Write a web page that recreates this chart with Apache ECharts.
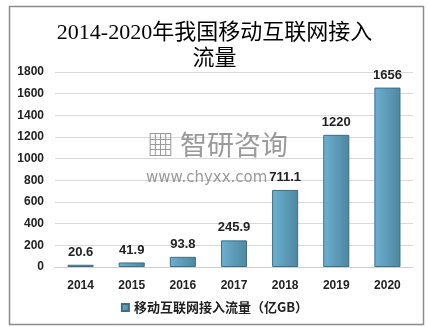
<!DOCTYPE html>
<html><head><meta charset="utf-8">
<script src="https://cdn.jsdelivr.net/npm/echarts@6/dist/echarts.min.js"></script>
<style>html,body{margin:0;padding:0;background:#fff}#c{width:429px;height:327px}</style>
</head><body><div id="c"></div>
<script>
const categories = ['2014','2015','2016','2017','2018','2019','2020'];
const values = [20.6, 41.9, 93.8, 245.9, 711.1, 1220, 1656];
const seriesName = '移动互联网接入流量（亿GB）';
const titleText = '2014-2020年我国移动互联网接入\n流量';

const chart = echarts.init(document.getElementById('c'));
chart.setOption({
  backgroundColor: '#fff',
  animation: false,
  title: {
    text: titleText, left: 'center', top: 15,
    textStyle: { fontFamily: 'Liberation Serif, "Noto Sans CJK SC", serif', fontSize: 22, fontWeight: 'normal', color: '#000', lineHeight: 26 }
  },
  graphic: [
    { type: 'rect', left: 7, top: 4, shape: { width: 414, height: 318 }, style: { fill: 'none', stroke: '#8c8c8c', lineWidth: 1.5 }, z: 0 },
    { type: 'text', left: 147, top: 131, style: { text: '▦ 智研咨询', fontSize: 27, fill: 'rgba(120,120,120,0.75)', fontFamily: '"Noto Sans CJK SC"' }, z: 100 },
    { type: 'text', left: 146, top: 171, style: { text: 'www.chyxx.com', fontSize: 15, fill: 'rgba(120,120,120,0.75)', fontFamily: 'DejaVu Sans' }, z: 100 }
  ],
  legend: {
    bottom: 8, left: 'center', itemWidth: 7, itemHeight: 7, itemGap: 4,
    icon: 'rect',
    textStyle: { fontSize: 13, fontWeight: 'bold', color: '#222', fontFamily: '"Noto Sans CJK SC"' },
    data: [seriesName]
  },
  grid: { left: 55, right: 16, top: 72, bottom: 60 },
  xAxis: {
    type: 'category', data: categories,
    axisTick: { show: false },
    axisLine: { lineStyle: { color: '#d0d0d0' } },
    axisLabel: { fontSize: 12, fontWeight: 'bold', color: '#222', margin: 13, fontFamily: 'Liberation Sans, Arial' }
  },
  yAxis: {
    type: 'value', min: 0, max: 1800, interval: 200,
    axisLine: { show: false }, axisTick: { show: false },
    splitLine: { lineStyle: { color: '#d9d9d9' } },
    axisLabel: { formatter: v => String(v), fontSize: 12, fontWeight: 'bold', color: '#222', margin: 11, fontFamily: 'Liberation Sans, Arial' }
  },
  series: [{
    name: seriesName, type: 'bar', data: values, barWidth: '51%',
    itemStyle: {
      color: new echarts.graphic.LinearGradient(0, 0, 1, 0, [
        { offset: 0, color: '#6cb0d2' }, { offset: 1, color: '#4d879f' }
      ]),
      borderColor: '#3e6e85', borderWidth: 1
    },
    label: { show: true, position: 'top', distance: 6, fontSize: 13, fontWeight: 'bold', color: '#222', fontFamily: 'Liberation Sans, Arial' }
  }]
});
</script></body></html>
